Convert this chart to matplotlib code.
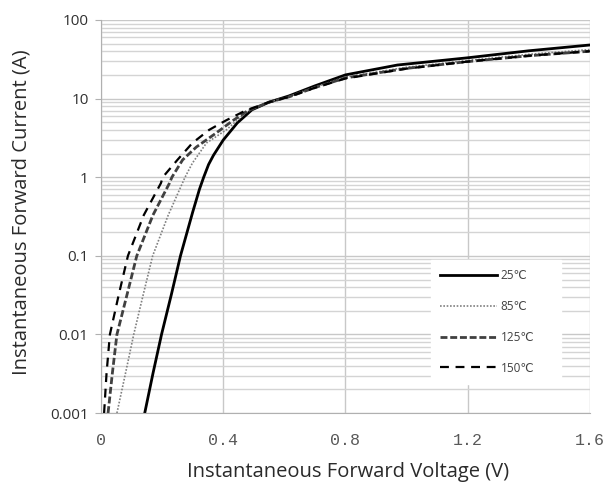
import numpy as np
import matplotlib.pyplot as plt
from matplotlib.ticker import FixedLocator, LogLocator, NullFormatter

# forward voltage (V) / current (A)
v_25  = [0.143, 0.170, 0.198, 0.230, 0.260, 0.300, 0.322, 0.336, 0.352, 0.368, 0.400, 0.446,
         0.494, 0.55, 0.615, 0.70, 0.80, 0.97, 1.20, 1.40, 1.60]
i_25  = [0.001, 0.0032, 0.01, 0.032, 0.1,   0.36,  0.70,  1.0,   1.45,  1.9,   2.97,  4.9,
         7.2,   9.0,  10.8,  14.5, 20.0, 26.7, 33.0, 40.5, 48.0]

v_85  = [0.052, 0.080, 0.107, 0.138, 0.169, 0.220, 0.275, 0.299, 0.345, 0.410, 0.480,
         0.55, 0.615, 0.70, 0.80, 1.00, 1.20, 1.40, 1.60]
i_85  = [0.001, 0.0032, 0.01, 0.032, 0.1,   0.33,  1.0,   1.51,  2.72,  4.0,   6.9,
         9.0,  10.6,  14.0, 18.8, 25.0, 30.5, 36.5, 42.0]

v_125 = [0.023, 0.037, 0.052, 0.085, 0.117, 0.170, 0.224, 0.232, 0.267, 0.312, 0.377,
         0.430, 0.480, 0.55, 0.615, 0.70, 0.80, 1.00, 1.20, 1.40, 1.60]
i_125 = [0.001, 0.0032, 0.01, 0.032, 0.1,   0.33,  0.84,  1.0,   1.66,  2.42,  3.65,
         5.2,   7.0,   9.0,  10.5,  13.8, 18.3, 24.2, 29.5, 35.0, 40.0]

v_150 = [0.010, 0.018, 0.029, 0.058, 0.088, 0.140, 0.196, 0.202, 0.250, 0.299, 0.354,
         0.410, 0.475, 0.55, 0.615, 0.70, 0.80, 1.00, 1.20, 1.40, 1.60]
i_150 = [0.001, 0.0032, 0.01, 0.032, 0.1,   0.33,  0.84,  1.0,   1.66,  2.72,  4.0,
         5.3,   7.1,   9.0,  10.5,  13.7, 18.0, 24.0, 29.5, 35.0, 40.0]

labels = ['25\u2103', '85\u2103', '125\u2103', '150\u2103']
x_ticks = [0, 0.4, 0.8, 1.2, 1.6]
x_ticklabels = ['0', '0.4', '0.8', '1.2', '1.6']
y_ticks = [0.001, 0.01, 0.1, 1, 10, 100]
y_ticklabels = ['0.001', '0.01', '0.1', '1', '10', '100']

fig = plt.figure(figsize=(6.05, 4.86), dpi=100)
ax = fig.add_axes([0.167, 0.150, 0.808, 0.809])

ax.plot(v_25, i_25, color='black', lw=2.0, ls='-', label=labels[0])
ax.plot(v_85, i_85, color='#808080', lw=1.2, ls=(0, (1, 1)), label=labels[1])
ax.plot(v_125, i_125, color='#404040', lw=2.0, ls=(0, (2.5, 1)), label=labels[2])
ax.plot(v_150, i_150, color='black', lw=1.6, ls=(0, (4, 3)), label=labels[3])

ax.set_yscale('log')
ax.set_xlim(0, 1.6)
ax.set_ylim(0.001, 100)

ax.xaxis.set_major_locator(FixedLocator(x_ticks))
ax.set_xticklabels(x_ticklabels, family='Liberation Mono', fontsize=12, color='#595959')
ax.yaxis.set_major_locator(FixedLocator(y_ticks))
ax.yaxis.set_minor_locator(LogLocator(base=10, subs=np.arange(2, 10)))
ax.yaxis.set_minor_formatter(NullFormatter())
ax.set_yticklabels(y_ticklabels, family='Open Sans', fontsize=11, color='#303030')

ax.grid(which='major', axis='both', color='#c8c8c8', lw=1.0)
ax.grid(which='minor', axis='y', color='#d4d4d4', lw=1.0)
ax.set_axisbelow(True)

for s in ['top', 'right']:
    ax.spines[s].set_visible(False)
for s in ['left', 'bottom']:
    ax.spines[s].set_color('#b0b0b0')
ax.tick_params(axis='y', which='major', length=4, color='#b0b0b0', pad=5)
ax.tick_params(axis='y', which='minor', length=0)
ax.tick_params(axis='x', length=0, pad=14)

ax.set_xlabel('Instantaneous Forward Voltage (V)', family='Open Sans', fontsize=14.5,
              weight='medium', color='#2a2a2a', va='center')
ax.xaxis.set_label_coords(0.505, -0.150)
ax.set_ylabel('Instantaneous Forward Current (A)', family='Open Sans', fontsize=14.5,
              weight='medium', color='#2a2a2a', va='center')
ax.yaxis.set_label_coords(-0.162, 0.511)

leg = ax.legend(loc='lower left', bbox_to_anchor=(0.663, 0.059, 0.29, 0.292),
                mode='expand', handlelength=4.8, handletextpad=0.3,
                labelspacing=1.5, borderpad=0.8, fancybox=False, framealpha=1,
                edgecolor='white', facecolor='white',
                prop={'family': ['Open Sans', 'DejaVu Sans'], 'size': 8.5})
for t in leg.get_texts():
    t.set_color('#404040')

fig.savefig('out.png', dpi=100)
